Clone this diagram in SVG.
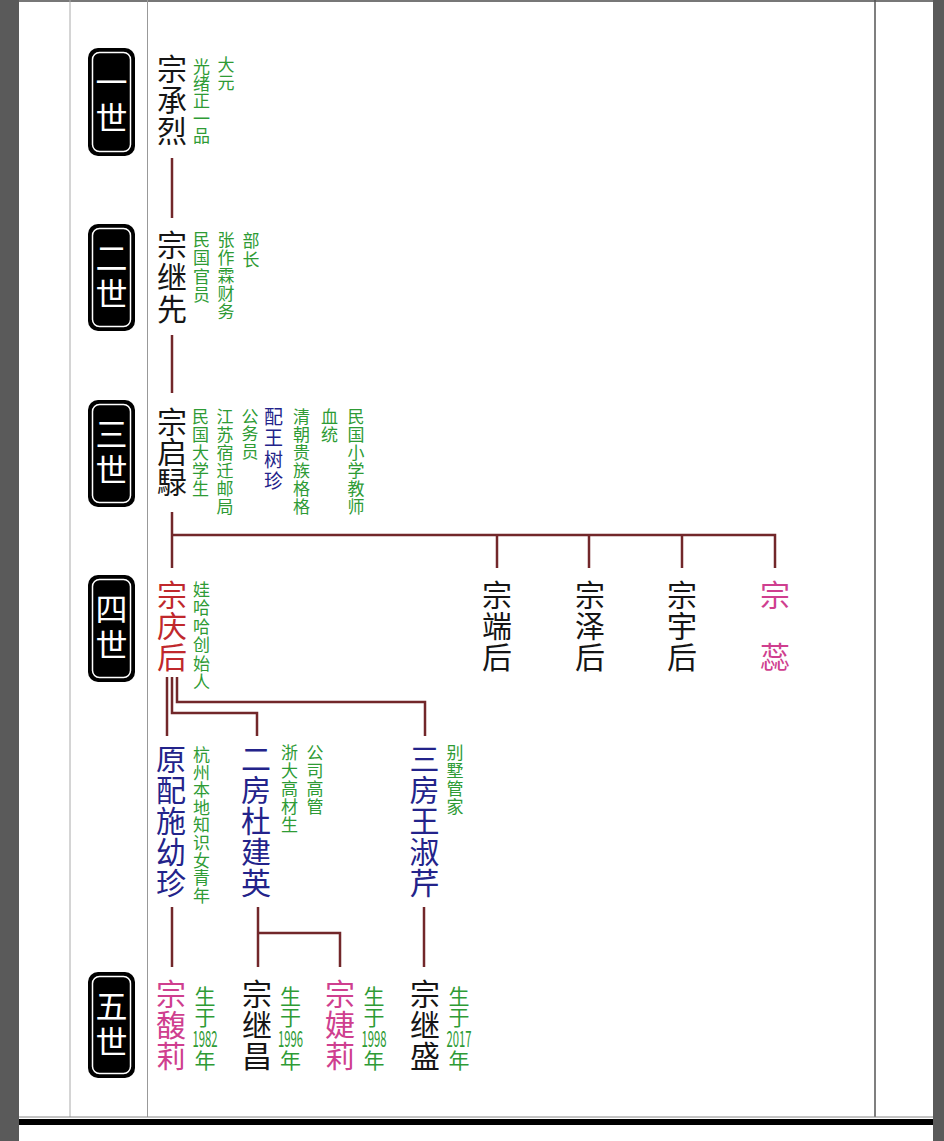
<svg xmlns="http://www.w3.org/2000/svg" width="944" height="1141" viewBox="0 0 944 1141">
<style>
text{font-family:"Noto Sans CJK SC","Noto Sans",sans-serif}
.v{writing-mode:vertical-rl;text-anchor:start}
.nm{font-size:30px;fill:#151515;letter-spacing:1px}
.an{font-size:17px;fill:#2e9b35;letter-spacing:1px}
.bl{fill:#23238a}
.rd{fill:#c0282c}
.pk{fill:#cf3f8f}
.gt{font-size:32px;fill:#fff;letter-spacing:4px}
.yr{font-size:21px;fill:#2e9b35}
.num{font-size:22px;fill:#2e9b35;text-anchor:middle}
.box{fill:#000}
.inner{fill:none;stroke:#fff;stroke-width:1.5}
.con{fill:none;stroke:#72272a;stroke-width:2.5}
</style>
<rect width="944" height="1141" fill="#fff"/>
<g id="frame">
<rect x="0" y="0" width="19" height="1141" fill="#5a5a5a"/>
<rect x="933" y="0" width="11" height="1141" fill="#5a5a5a"/>
<rect x="19" y="0" width="914" height="2" fill="#777"/>
<line x1="70" y1="0" x2="70" y2="1117" stroke="#aaa" stroke-width="1"/>
<line x1="147.5" y1="0" x2="147.5" y2="1117" stroke="#999" stroke-width="1"/>
<line x1="875" y1="0" x2="875" y2="1117" stroke="#555" stroke-width="1.5"/>
<line x1="19" y1="1117" x2="933" y2="1117" stroke="#888" stroke-width="1"/>
<rect x="19" y="1119" width="914" height="6" fill="#000"/>
</g>
<g id="gen1"><rect class="box" x="88" y="48" width="47" height="108" rx="10"/><rect class="inner" x="92.5" y="52.5" width="38" height="99" rx="7"/><text class="gt v" x="111.5" y="65.8">一世</text></g>
<g id="gen2"><rect class="box" x="88" y="224" width="47" height="107" rx="10"/><rect class="inner" x="92.5" y="228.5" width="38" height="98" rx="7"/><text class="gt v" x="111.5" y="241.8">二世</text></g>
<g id="gen3"><rect class="box" x="88" y="400" width="47" height="107" rx="10"/><rect class="inner" x="92.5" y="404.5" width="38" height="98" rx="7"/><text class="gt v" x="111.5" y="417.8">三世</text></g>
<g id="gen4"><rect class="box" x="88" y="575" width="47" height="107" rx="10"/><rect class="inner" x="92.5" y="579.5" width="38" height="98" rx="7"/><text class="gt v" x="111.5" y="592.8">四世</text></g>
<g id="gen5"><rect class="box" x="88" y="972" width="47" height="106" rx="10"/><rect class="inner" x="92.5" y="976.5" width="38" height="97" rx="7"/><text class="gt v" x="111.5" y="989.8">五世</text></g>
<g id="connectors" class="con">
<line x1="172" y1="158" x2="172" y2="218"/>
<line x1="172" y1="335" x2="172" y2="393"/>
<line x1="172" y1="512" x2="172" y2="568"/>
<polyline points="172,535 775,535 775,568"/>
<line x1="497" y1="535" x2="497" y2="568"/>
<line x1="589" y1="535" x2="589" y2="568"/>
<line x1="682" y1="535" x2="682" y2="568"/>
<line x1="167" y1="677" x2="167" y2="736"/>
<polyline points="172,677 172,713 257,713 257,736"/>
<polyline points="177,677 177,702 425,702 425,736"/>
<line x1="172" y1="907" x2="172" y2="967"/>
<line x1="258" y1="907" x2="258" y2="967"/>
<polyline points="258,933 340,933 340,967"/>
<line x1="424" y1="907" x2="424" y2="967"/>
</g>
<g id="p-chenglie">
<text class="nm v" x="172" y="53.6">宗承烈</text>
<text class="an v" x="201.5" y="58" style="letter-spacing:0.25px">光绪正一品</text>
<text class="an v" x="226" y="56">大元</text>
</g>
<g id="p-jixian">
<text class="nm v" x="172" y="229.6" style="letter-spacing:2px">宗继先</text>
<text class="an v" x="201.5" y="231" style="letter-spacing:1.3px">民国官员</text>
<text class="an v" x="226" y="231">张作霖财务</text>
<text class="an v" x="251" y="232" style="letter-spacing:2px">部长</text>
</g>
<g id="p-qilu">
<text class="nm v" x="172" y="406.6" style="letter-spacing:0">宗启騄</text>
<text class="an v" x="200.5" y="408">民国大学生</text>
<text class="an v" x="225" y="408">江苏宿迁邮局</text>
<text class="an v" x="250" y="408" style="letter-spacing:0.5px">公务员</text>
</g>
<g id="p-wangshuzhen">
<text class="an bl v" x="273.5" y="407.3" style="font-size:19px;letter-spacing:2.3px">配王树珍</text>
<text class="an v" x="301.5" y="408">清朝贵族格格</text>
<text class="an v" x="329.5" y="408">血统</text>
<text class="an v" x="356" y="408">民国小学教师</text>
</g>
<g id="p-qinghou">
<text class="nm rd v" x="172" y="579.6">宗庆后</text>
<text class="an v" x="201.5" y="581" style="letter-spacing:1.4px">娃哈哈创始人</text>
</g>
<g id="p-duanhou"><text class="nm v" x="497" y="579.6">宗端后</text></g>
<g id="p-zehou"><text class="nm v" x="590" y="579.6">宗泽后</text></g>
<g id="p-yuhou"><text class="nm v" x="682" y="579.6">宗宇后</text></g>
<g id="p-rui"><text class="nm pk v" x="775" y="579.6">宗</text><text class="nm pk v" x="775" y="641.6">蕊</text></g>
<g id="p-shiyouzhen">
<text class="nm bl v" x="171" y="743.6">原配施幼珍</text>
<text class="an v" x="201.5" y="746" style="letter-spacing:0.6px">杭州本地知识女青年</text>
</g>
<g id="p-dujianying">
<text class="nm bl v" x="256" y="743.6">二房杜建英</text>
<text class="an v" x="289.5" y="744">浙大高材生</text>
<text class="an v" x="315" y="744">公司高管</text>
</g>
<g id="p-wangshuqin">
<text class="nm bl v" x="424.5" y="743.6">三房王淑芹</text>
<text class="an v" x="455" y="744">别墅管家</text>
</g>
<g id="p-fuli">
<text class="nm pk v" x="171" y="978.6">宗馥莉</text>
<text class="yr v" x="205" y="985.5">生于</text>
<text class="num" x="205" y="1047" textLength="25" lengthAdjust="spacingAndGlyphs">1982</text>
<text class="yr v" x="205" y="1049.5">年</text>
</g>
<g id="p-jichang">
<text class="nm v" x="257" y="978.6">宗继昌</text>
<text class="yr v" x="290.5" y="985.5">生于</text>
<text class="num" x="290.5" y="1047" textLength="25" lengthAdjust="spacingAndGlyphs">1996</text>
<text class="yr v" x="290.5" y="1049.5">年</text>
</g>
<g id="p-jieli">
<text class="nm pk v" x="340" y="978.6">宗婕莉</text>
<text class="yr v" x="374" y="985.5">生于</text>
<text class="num" x="374" y="1047" textLength="25" lengthAdjust="spacingAndGlyphs">1998</text>
<text class="yr v" x="374" y="1049.5">年</text>
</g>
<g id="p-jisheng">
<text class="nm v" x="425" y="978.6">宗继盛</text>
<text class="yr v" x="459" y="985.5">生于</text>
<text class="num" x="459" y="1047" textLength="25" lengthAdjust="spacingAndGlyphs">2017</text>
<text class="yr v" x="459" y="1049.5">年</text>
</g>
</svg>
